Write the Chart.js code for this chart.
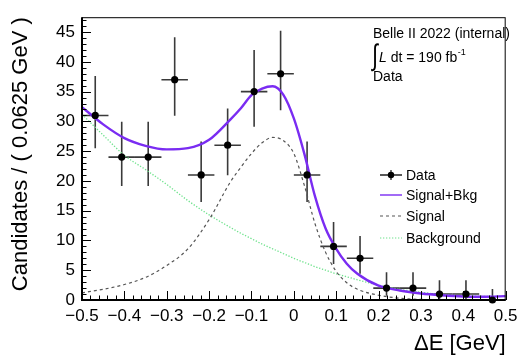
<!DOCTYPE html>
<html><head><meta charset="utf-8">
<script src="https://cdn.jsdelivr.net/npm/chart.js@4.4.0/dist/chart.umd.min.js"></script>
<style>html,body{margin:0;padding:0;background:#fff;}canvas{display:block;}</style>
</head><body>
<canvas id="c" width="524" height="355"></canvas>
<script>
// ---- data ----
const binCenters = [-0.46875,-0.40625,-0.34375,-0.28125,-0.21875,-0.15625,-0.09375,-0.03125,0.03125,0.09375,0.15625,0.21875,0.28125,0.34375,0.40625,0.46875];
const counts  = [31,24,24,37,21,26,35,38,21,9,7,2,2,1,1,0];
const errLow  = [5.52,4.86,4.86,6.06,4.53,5.06,5.88,6.14,4.53,2.94,2.58,1.29,1.29,0.83,0.83,0];
const errHigh = [6.63,5.96,5.96,7.14,5.62,6.17,6.97,7.22,5.62,4.11,3.76,2.64,2.64,2.30,2.30,1.84];
const binHalfWidth = 0.03125;

const curveX     = [-0.5,-0.45,-0.4,-0.35,-0.3,-0.25,-0.2,-0.15,-0.125,-0.1,-0.075,-0.05,-0.025,0,0.025,0.05,0.075,0.1,0.125,0.15,0.2,0.25,0.3,0.35,0.4,0.45,0.5];
const sigBkg     = [32.4,29.5,27.2,25.9,25.3,25.5,26.9,30.3,32.2,34.4,35.5,35.9,34.5,30.5,24.5,17.4,12.0,8.6,6.1,4.4,2.4,1.6,1.1,0.8,0.6,0.55,0.65];
const signal     = [1.2,1.8,2.6,3.8,5.8,8.6,13.5,19.8,22.3,24.6,26.4,27.3,26.8,24.6,19.2,12.8,8.0,4.8,2.9,1.8,0.8,0.3,0.1,0.05,0.02,0.01,0];
const background = [31.2,27.7,24.3,21.9,19.4,16.7,14.3,12.2,11.2,10.3,9.4,8.6,7.8,7.0,6.3,5.6,5.0,4.4,3.9,3.4,2.5,1.8,1.3,0.9,0.7,0.6,0.6];

const xTicks = [-0.5,-0.4,-0.3,-0.2,-0.1,0,0.1,0.2,0.3,0.4,0.5];
const xTickLabels = ['\u22120.5','\u22120.4','\u22120.3','\u22120.2','\u22120.1','0','0.1','0.2','0.3','0.4','0.5'];
const yTicks = [0,5,10,15,20,25,30,35,40,45];
const yTickLabels = ['0','5','10','15','20','25','30','35','40','45'];

const legendLabels = ['Data','Signal+Bkg','Signal','Background'];
const infoLines = ['Belle II 2022 (internal)','190 fb','Data'];

const FONT = "'Liberation Sans', Arial, Helvetica, sans-serif";
const PURPLE = '#7a2cf2';
const GREY = '#555555';
const GREEN = '#6ee28c';

const toXY = (xs, ys) => xs.map((v,i)=>({x:v,y:ys[i]}));

const rootPlugin = {
  id: 'rootStyle',
  beforeDatasetsDraw(chart) {
    const {ctx, scales:{x,y}} = chart;
    ctx.save();
    ctx.strokeStyle = '#3a3a3a'; ctx.lineWidth = 1.6;
    binCenters.forEach((c,i)=>{
      const px = x.getPixelForValue(c), py = y.getPixelForValue(counts[i]);
      const x0 = x.getPixelForValue(c-binHalfWidth), x1 = x.getPixelForValue(c+binHalfWidth);
      const yt = y.getPixelForValue(counts[i]+errHigh[i]), yb = y.getPixelForValue(counts[i]-errLow[i]);
      ctx.beginPath();
      ctx.moveTo(x0,py); ctx.lineTo(x1,py);
      ctx.moveTo(px,yt); ctx.lineTo(px,yb);
      ctx.stroke();
    });
    ctx.restore();
  },
  afterDraw(chart) {
    const {ctx, chartArea:a, scales:{x,y}} = chart;
    ctx.save();
    // frame
    ctx.strokeStyle = '#000'; ctx.lineWidth = 1;
    ctx.strokeRect(a.left+0.5, a.top+0.5, a.right-a.left-1, a.bottom-a.top-1);
    ctx.lineWidth = 2;
    ctx.beginPath();
    ctx.moveTo(a.left, a.top); ctx.lineTo(a.left, a.bottom); ctx.lineTo(a.right, a.bottom);
    ctx.stroke();
    // inward ticks
    ctx.lineWidth = 1;
    ctx.beginPath();
    for (let k=0;k<=50;k++){
      const v = -0.5 + k*0.02;
      const px = Math.round(x.getPixelForValue(v))+0.5;
      const len = (k%5===0) ? 9 : 4.5;
      ctx.moveTo(px, a.bottom); ctx.lineTo(px, a.bottom-len);
    }
    for (let k=0;k<=47;k++){
      const py = Math.round(y.getPixelForValue(k))+0.5;
      const len = (k%5===0) ? 9 : 4.5;
      ctx.moveTo(a.left, py); ctx.lineTo(a.left+len, py);
    }
    ctx.stroke();

    // legend
    const lx0 = 380, lx1 = 402, tx = 406;
    const ly = [175,195,216,238];
    ctx.font = '14px ' + FONT; ctx.fillStyle = '#000'; ctx.textBaseline = 'middle'; ctx.textAlign = 'left';
    legendLabels.forEach((t,i)=>ctx.fillText(t, tx, ly[i]+1));
    ctx.strokeStyle = '#222'; ctx.lineWidth = 1.3;
    ctx.beginPath(); ctx.moveTo(lx0, ly[0]); ctx.lineTo(lx1, ly[0]);
    ctx.moveTo(391, ly[0]-5); ctx.lineTo(391, ly[0]+5); ctx.stroke();
    ctx.beginPath(); ctx.arc(391, ly[0], 3.2, 0, Math.PI*2); ctx.fillStyle='#000'; ctx.fill();
    ctx.strokeStyle = PURPLE; ctx.globalAlpha = 0.7; ctx.lineWidth = 2;
    ctx.beginPath(); ctx.moveTo(lx0, ly[1]); ctx.lineTo(lx1, ly[1]); ctx.stroke();
    ctx.globalAlpha = 1;
    ctx.strokeStyle = GREY; ctx.lineWidth = 1.2; ctx.setLineDash([3,3]);
    ctx.beginPath(); ctx.moveTo(lx0, ly[2]); ctx.lineTo(lx1, ly[2]); ctx.stroke();
    ctx.strokeStyle = GREEN; ctx.setLineDash([1.3,1.7]);
    ctx.beginPath(); ctx.moveTo(lx0, ly[3]); ctx.lineTo(lx1, ly[3]); ctx.stroke();
    ctx.setLineDash([]);

    // info text
    ctx.fillStyle = '#000';
    ctx.font = '14px ' + FONT;
    ctx.fillText(infoLines[0], 373, 34);
    ctx.save();
    ctx.translate(372, 57);
    ctx.scale(1, 1.4);
    ctx.font = '21px ' + FONT;
    ctx.fillText('\u222B', 0, 0);
    ctx.restore();
    ctx.font = 'italic 14px ' + FONT;
    ctx.fillText('L', 379, 58);
    let cx = 379 + ctx.measureText('L').width;
    ctx.font = '14px ' + FONT;
    const s2 = ' dt = ' + infoLines[1];
    ctx.fillText(s2, cx, 58);
    cx += ctx.measureText(s2).width;
    ctx.font = '9px ' + FONT;
    ctx.fillText('-1', cx+0.5, 53);
    ctx.font = '14px ' + FONT;
    ctx.fillText(infoLines[2], 373, 77);
    ctx.restore();
  }
};

Chart.defaults.font.family = FONT;
Chart.defaults.color = '#000';

new Chart(document.getElementById('c'), {
  type: 'scatter',
  data: {
    datasets: [
      { label: 'Data', data: toXY(binCenters, counts), showLine: false,
        pointRadius: 3.6, pointHoverRadius: 3.6, pointBackgroundColor: '#000', pointBorderColor: '#000', pointBorderWidth: 0,
        clip: false, order: 0 },
      { label: 'Signal+Bkg', data: toXY(curveX, sigBkg), showLine: true, pointRadius: 0,
        borderColor: PURPLE, borderWidth: 2.4, cubicInterpolationMode: 'monotone', order: 1 },
      { label: 'Signal', data: toXY(curveX, signal), showLine: true, pointRadius: 0,
        borderColor: GREY, borderWidth: 1.2, borderDash: [3,3], cubicInterpolationMode: 'monotone', order: 2 },
      { label: 'Background', data: toXY(curveX, background), showLine: true, pointRadius: 0,
        borderColor: GREEN, borderWidth: 1.3, borderDash: [1.3,1.7], cubicInterpolationMode: 'monotone', order: 3 }
    ]
  },
  options: {
    responsive: false,
    devicePixelRatio: 1,
    animation: false,
    events: [],
    layout: { padding: { left: 0, right: 12, top: 10, bottom: 0 } },
    plugins: { legend: { display: false }, tooltip: { enabled: false }, title: { display: false } },
    scales: {
      x: {
        type: 'linear', min: -0.5, max: 0.5,
        afterBuildTicks: s => { s.ticks = xTicks.map(v=>({value:v})); },
        afterFit: s => { s.height = 55; },
        ticks: { callback: (v,i) => xTickLabels[i], font: { size: 17 }, color: '#000', padding: 6.5, maxRotation: 0, autoSkip: false },
        grid: { display: false, drawTicks: false },
        border: { display: false },
        title: { display: true, text: '\u0394E [GeV]', align: 'end', color: '#000', font: { size: 22, lineHeight: 1.05 }, padding: 0 }
      },
      y: {
        type: 'linear', min: 0, max: 47.5,
        afterBuildTicks: s => { s.ticks = yTicks.map(v=>({value:v})); },
        afterFit: s => { s.width = 82; },
        ticks: { callback: (v,i) => yTickLabels[i], font: { size: 17 }, color: '#000', padding: 7, autoSkip: false },
        grid: { display: false, drawTicks: false },
        border: { display: false },
        title: { display: true, text: 'Candidates / ( 0.0625 GeV )', align: 'end', color: '#000', font: { size: 22 }, padding: { top: 8, bottom: 0 } }
      }
    }
  },
  plugins: [rootPlugin]
});
</script>
</body></html>
